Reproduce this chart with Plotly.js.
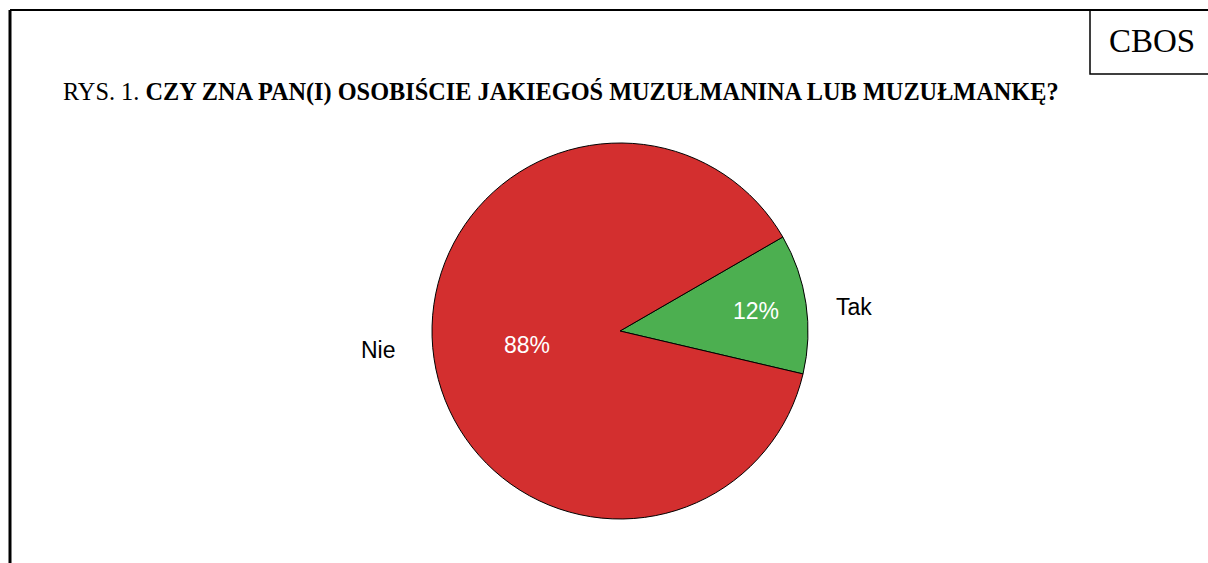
<!DOCTYPE html>
<html>
<head>
<meta charset="utf-8">
<script src="https://cdn.plot.ly/plotly-3.0.1.min.js"></script>
<style>html,body{margin:0;padding:0;background:#fff;}#chart{width:1208px;height:563px;}</style>
</head>
<body>
<div id="chart"></div>
<script>
const labels = ["Tak", "Nie"];
const values = [12, 88];
const colors = ["#4CAF50", "#D32F2F"];
const titlePrefix = "RYS. 1. ";
const titleMain = "CZY ZNA PAN(I) OSOBIŚCIE JAKIEGOŚ MUZUŁMANINA LUB MUZUŁMANKĘ?";
const sourceLabel = "CBOS";

const W = 1208, H = 563;
const px = x => x / W;
const py = y => 1 - y / H;

const trace = {
  type: "pie",
  labels: labels,
  values: values,
  sort: false,
  direction: "clockwise",
  rotation: 60,
  marker: { colors: colors, line: { color: "#000", width: 1 } },
  textinfo: "percent",
  texttemplate: "%{percent:.0%}",
  textposition: "inside",
  insidetextorientation: "horizontal",
  textfont: { family: "Liberation Sans, Arial, sans-serif", size: 23, color: "#fff" },
  domain: { x: [px(432), px(808)], y: [py(519), py(143)] },
  showlegend: false,
  hoverinfo: "label+percent"
};

const layout = {
  width: W, height: H,
  margin: { l: 0, r: 0, t: 0, b: 0 },
  paper_bgcolor: "#fff",
  showlegend: false,
  shapes: [
    { type: "line", xref: "paper", yref: "paper", x0: px(10), x1: 1.01, y0: py(10), y1: py(10), line: { color: "#000", width: 2 } },
    { type: "line", xref: "paper", yref: "paper", x0: px(10), x1: px(10), y0: py(10), y1: -0.01, line: { color: "#000", width: 3 } },
    { type: "rect", xref: "paper", yref: "paper", x0: px(1090), x1: 1.01, y0: py(74), y1: py(10), line: { color: "#000", width: 1.5 } }
  ],
  annotations: [
    { xref: "paper", yref: "paper", x: px(61), y: py(92), xanchor: "left", yanchor: "middle", showarrow: false,
      text: titlePrefix + "<b>" + titleMain + "</b>",
      font: { family: "Liberation Serif, Times New Roman, serif", size: 24.3, color: "#000" } },
    { xref: "paper", yref: "paper", x: px(1152), y: py(41), xanchor: "center", yanchor: "middle", showarrow: false,
      text: sourceLabel,
      font: { family: "Liberation Serif, Times New Roman, serif", size: 33, color: "#000" } },
    { xref: "paper", yref: "paper", x: px(834), y: py(307), xanchor: "left", yanchor: "middle", showarrow: false,
      text: labels[0],
      font: { family: "Liberation Sans, Arial, sans-serif", size: 23, color: "#000" } },
    { xref: "paper", yref: "paper", x: px(398), y: py(350), xanchor: "right", yanchor: "middle", showarrow: false,
      text: labels[1],
      font: { family: "Liberation Sans, Arial, sans-serif", size: 23, color: "#000" } }
  ]
};

Plotly.newPlot("chart", [trace], layout, { displayModeBar: false, staticPlot: true });
</script>
</body>
</html>
